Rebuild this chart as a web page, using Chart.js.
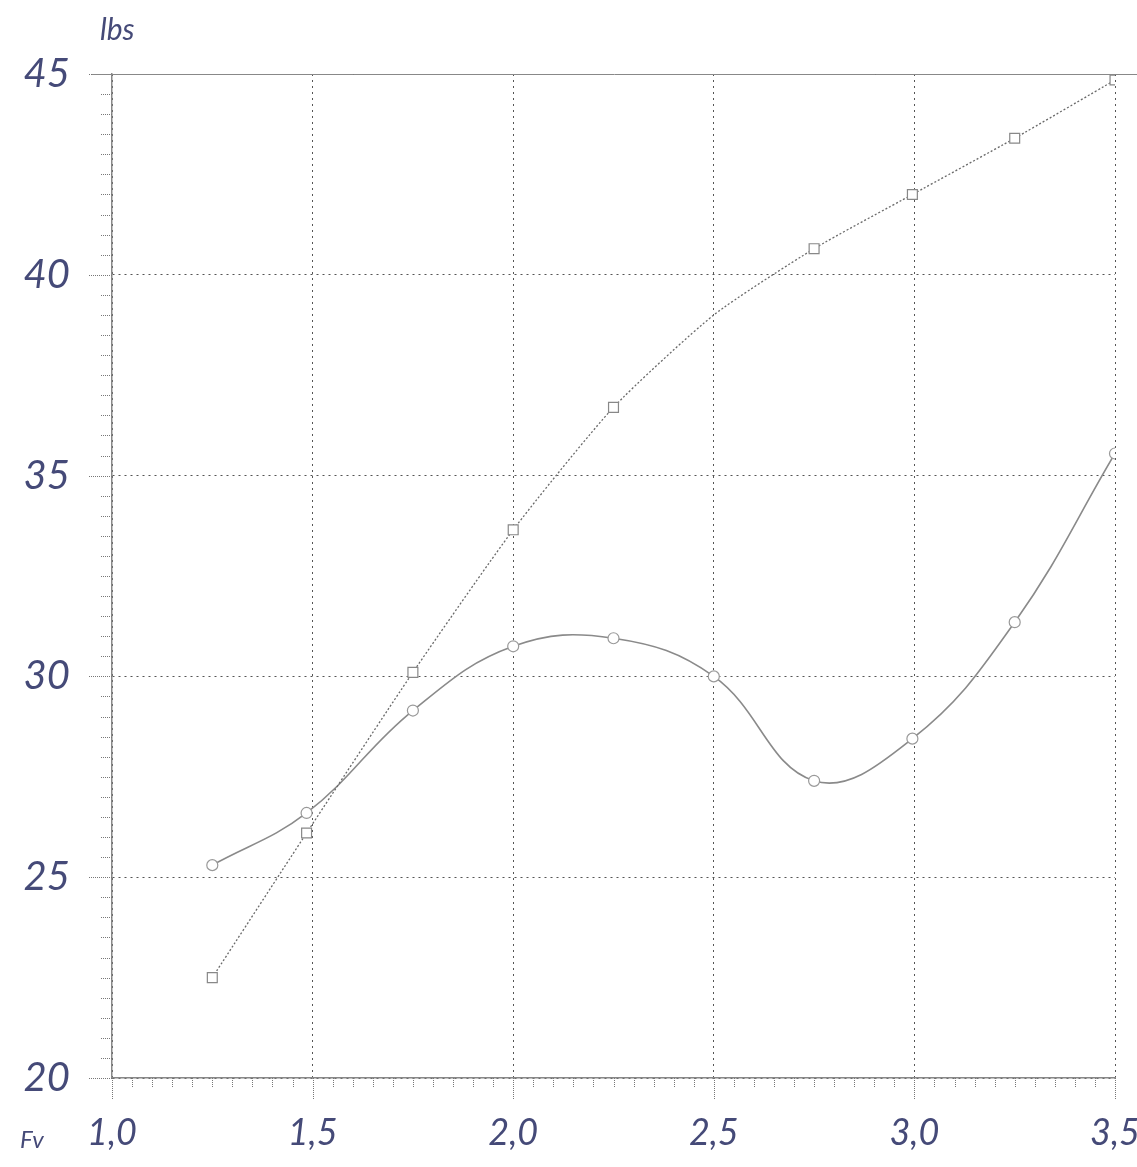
<!DOCTYPE html>
<html>
<head>
<meta charset="utf-8">
<script src="https://cdn.jsdelivr.net/npm/chart.js@4"></script>
<style>
  html, body { margin: 0; padding: 0; background: #fff; }
  #wrap { width: 1137px; height: 1167px; position: relative; }
</style>
</head>
<body>
<div id="wrap"><canvas id="chart"></canvas></div>
<script>
// values
const xValues = [1.25, 1.485, 1.75, 2.0, 2.25, 2.5, 2.75, 2.995, 3.25, 3.5];
const upperValues = [22.5, 26.1, 30.1, 33.65, 36.7, 39.0, 40.65, 42.0, 43.4, 44.85];
const lowerValues = [25.3, 26.6, 29.15, 30.75, 30.95, 30.0, 27.4, 28.45, 31.35, 35.55];
const upperMarkers = [7, 7, 7, 7, 7, 0, 7, 7, 7, 7]; // no mark at 2,5 on the top curve
const yTicks = [20, 25, 30, 35, 40, 45];
const xTicks = [1.0, 1.5, 2.0, 2.5, 3.0, 3.5];
const yUnit = 'lbs';
const xUnit = 'Fv';

const ink = '#454a78';
const handFont = { family: 'Lato, "Open Sans", sans-serif', style: 'italic', weight: 400 };

function toPoints(ys) {
    return xValues.map((x, i) => ({ x: x, y: ys[i] }));
}

// minor ticks, top border, unit labels
const sheetPlugin = {
    id: 'sheet',
    afterDraw(chart) {
        const ctx = chart.ctx;
        const xs = chart.scales.x;
        const ys = chart.scales.y;
        const area = chart.chartArea;
        ctx.save();
        ctx.strokeStyle = '#777';
        ctx.lineWidth = 1;
        ctx.setLineDash([1, 1]);
        for (let i = 0; i <= 50; i++) {
            const px = Math.round(xs.getPixelForValue(1 + i * 0.05)) + 0.5;
            const len = i % 10 === 0 ? 22 : 10;
            ctx.beginPath();
            ctx.moveTo(px, area.bottom);
            ctx.lineTo(px, area.bottom + len);
            ctx.stroke();
        }
        for (let i = 0; i <= 50; i++) {
            const py = Math.round(ys.getPixelForValue(20 + i * 0.5)) + 0.5;
            const len = i % 10 === 0 ? 24 : 12;
            ctx.beginPath();
            ctx.moveTo(area.left, py);
            ctx.lineTo(area.left - len, py);
            ctx.stroke();
        }
        // solid top edge at 45
        ctx.setLineDash([]);
        ctx.strokeStyle = '#888';
        ctx.beginPath();
        ctx.moveTo(area.left - 20, area.top + 0.5);
        ctx.lineTo(chart.width, area.top + 0.5);
        ctx.stroke();

        ctx.fillStyle = ink;
        ctx.font = 'italic 400 30px Lato, "Open Sans", sans-serif';
        ctx.textAlign = 'left';
        ctx.textBaseline = 'middle';
        ctx.fillText(yUnit, 100, 30);
        ctx.font = 'italic 400 24px Lato, "Open Sans", sans-serif';
        ctx.fillText(xUnit, 20, 1140);
        ctx.restore();
    }
};

new Chart(document.getElementById('chart'), {
    type: 'line',
    data: {
        datasets: [{
            label: 'upper',
            data: toPoints(upperValues),
            borderColor: '#6a6a6a',
            borderWidth: 1.3,
            borderDash: [2, 2],
            tension: 0.2,
            pointStyle: 'rect',
            pointRadius: upperMarkers,
            pointBorderColor: '#888',
            pointBorderWidth: 1.2,
            pointBackgroundColor: '#fff'
        }, {
            label: 'lower',
            data: toPoints(lowerValues),
            borderColor: '#8a8a8a',
            borderWidth: 1.6,
            tension: 0.4,
            pointStyle: 'circle',
            pointRadius: 5.5,
            pointBorderColor: '#999',
            pointBorderWidth: 1.2,
            pointBackgroundColor: '#fff'
        }]
    },
    options: {
        responsive: true,
        maintainAspectRatio: false,
        animation: false,
        layout: { padding: { top: 74, right: 22, left: 0, bottom: 0 } },
        plugins: {
            legend: { display: false },
            tooltip: { enabled: false }
        },
        scales: {
            x: {
                type: 'linear',
                min: 1.0,
                max: 3.5,
                afterBuildTicks: (scale) => { scale.ticks = xTicks.map(v => ({ value: v })); },
                afterFit: (scale) => { scale.height = 89; scale.paddingLeft = 0; scale.paddingRight = 0; },
                ticks: {
                    callback: (v) => v.toFixed(1).replace('.', ','),
                    color: ink,
                    font: { ...handFont, size: 36 },
                    padding: 34,
                    maxRotation: 0
                },
                grid: { color: '#555', lineWidth: 1, drawTicks: false },
                border: { display: true, color: '#888', width: 1.5, dash: [2, 4] }
            },
            y: {
                min: 20,
                max: 45,
                afterBuildTicks: (scale) => { scale.ticks = yTicks.map(v => ({ value: v })); },
                afterFit: (scale) => { scale.width = 112; scale.paddingTop = 0; scale.paddingBottom = 0; },
                ticks: {
                    color: ink,
                    font: { ...handFont, size: 40 },
                    padding: 42
                },
                grid: { color: '#555', lineWidth: 1, drawTicks: false },
                border: { display: true, color: '#888', width: 1.5, dash: [2, 4] }
            }
        }
    },
    plugins: [sheetPlugin]
});
</script>
</body>
</html>
